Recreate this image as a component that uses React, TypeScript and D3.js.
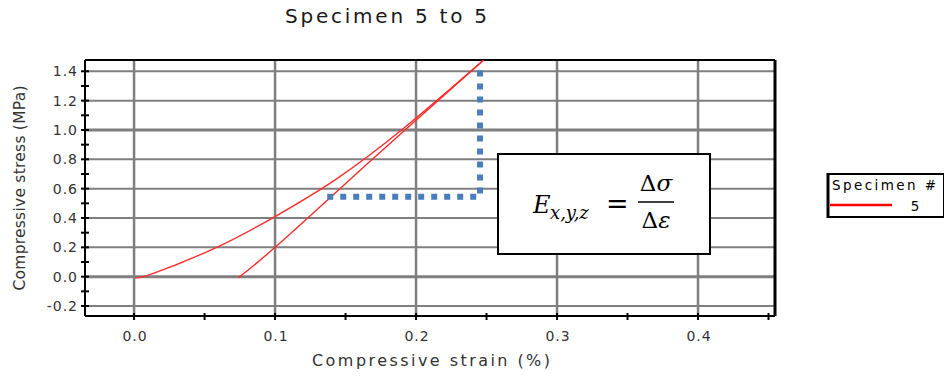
import * as d3 from "d3";

// values
const strainTicks = [0.0, 0.1, 0.2, 0.3, 0.4];
const stressTicks = [-0.2, 0.0, 0.2, 0.4, 0.6, 0.8, 1.0, 1.2, 1.4];

const curveStrain = [0.0007, 0.0137, 0.0586, 0.1, 0.1426, 0.191, 0.248];
const curveStress = [-0.007, 0.023, 0.2, 0.41, 0.66, 1.01, 1.477];

const tangentStrain = [0.074, 0.1, 0.146, 0.191, 0.248];
const tangentStress = [-0.007, 0.2, 0.6, 0.99, 1.477];

const guideStrain = [0.137, 0.2454, 0.2454];
const guideStress = [0.545, 0.545, 1.42];

const legendItems = ["5"];

const W = 944,
  H = 377;
const left = 85,
  right = 775,
  top = 60,
  bottom = 316;

export default function App() {
  const x = d3.scaleLinear().domain([-0.0348, 0.4546]).range([left, right]);
  const y = d3.scaleLinear().domain([-0.268, 1.477]).range([bottom, top]);

  const smooth = d3
    .line<[number, number]>()
    .x((d) => x(d[0]))
    .y((d) => y(d[1]))
    .curve(d3.curveNatural);
  const straight = d3
    .line<[number, number]>()
    .x((d) => x(d[0]))
    .y((d) => y(d[1]));

  const curvePath = smooth(curveStrain.map((s, i) => [s, curveStress[i]]));
  const tangentPath = smooth(tangentStrain.map((s, i) => [s, tangentStress[i]]));
  const guidePath = straight(guideStrain.map((s, i) => [s, guideStress[i]]));

  const fmt = d3.format(".1f");
  const yMinor = d3.range(-0.2, 1.45, 0.1);
  const xMinor = d3.range(0, 0.46, 0.05);
  const font = "'DejaVu Sans', Verdana, sans-serif";

  return (
    <svg width={W} height={H} style={{ position: "absolute", left: 0, top: 0, background: "#fff" }}>
      <defs>
        <clipPath id="plot">
          <rect x={left} y={top} width={right - left} height={bottom - top} />
        </clipPath>
      </defs>

      <text x={285} y={23} fontFamily={font} fontSize={20} fill="#1a1a1a" textLength={202} lengthAdjust="spacing">
        Specimen 5 to 5
      </text>

      {/* grid */}
      {stressTicks.map((t) => (
        <line
          key={"h" + t}
          x1={left}
          x2={right}
          y1={y(t)}
          y2={y(t)}
          stroke="#7f7f7f"
          strokeWidth={t === 0 || t === 1 ? 3 : 2}
        />
      ))}
      {strainTicks.map((t) => (
        <line key={"v" + t} x1={x(t)} x2={x(t)} y1={top} y2={bottom} stroke="#7f7f7f" strokeWidth={2.5} />
      ))}

      {/* frame */}
      <line x1={left} x2={right} y1={top} y2={top} stroke="#000" strokeWidth={2} />
      <line x1={right} x2={right} y1={top} y2={bottom} stroke="#000" strokeWidth={3} />
      <line x1={left} x2={left} y1={top} y2={bottom} stroke="#000" strokeWidth={2} />
      <line x1={left} x2={right} y1={bottom} y2={bottom} stroke="#000" strokeWidth={2} />

      {/* y ticks */}
      {yMinor.map((t) => (
        <line key={"yt" + t} x1={left - 4} x2={left + 4} y1={y(t)} y2={y(t)} stroke="#000" strokeWidth={2} />
      ))}
      {stressTicks.map((t) => (
        <text
          key={"yl" + t}
          x={78}
          y={y(t) + 5}
          textAnchor="end"
          fontFamily={font}
          fontSize={14}
          fill="#333"
          letterSpacing={1}
        >
          {fmt(t).replace("\u2212", "-")}
        </text>
      ))}

      {/* x ticks */}
      {xMinor.map((t) => (
        <line key={"xt" + t} x1={x(t)} x2={x(t)} y1={bottom - 3} y2={bottom + 4} stroke="#000" strokeWidth={2} />
      ))}
      {strainTicks.map((t) => (
        <text
          key={"xl" + t}
          x={x(t) + 1}
          y={341}
          textAnchor="middle"
          fontFamily={font}
          fontSize={14}
          fill="#333"
          letterSpacing={1}
        >
          {fmt(t)}
        </text>
      ))}

      <text x={312} y={366} fontFamily={font} fontSize={16} fill="#333" textLength={238} lengthAdjust="spacing">
        Compressive strain (%)
      </text>
      <text
        transform={`translate(25,188) rotate(-90)`}
        textAnchor="middle"
        fontFamily={font}
        fontSize={15.5}
        fill="#333"
        textLength={205}
        lengthAdjust="spacing"
      >
        Compressive stress (MPa)
      </text>

      {/* data */}
      <g clipPath="url(#plot)">
        <path d={curvePath ?? ""} fill="none" stroke="#ff2a2a" strokeWidth={1.4} />
        <path d={tangentPath ?? ""} fill="none" stroke="#ff2a2a" strokeWidth={1.4} />
      </g>
      <path d={guidePath ?? ""} fill="none" stroke="#4a7ebb" strokeWidth={6} strokeDasharray="6,7" />

      {/* equation box */}
      <rect x={498} y={154} width={212} height={100} fill="#fff" stroke="#000" strokeWidth={2} />
      <g fontFamily="'DejaVu Serif', 'Liberation Serif', serif" fill="#000">
        <text x={533} y={213} fontSize={24} fontStyle="italic">
          E
        </text>
        <text x={550} y={219} fontSize={18} fontStyle="italic">
          x,y,z
        </text>
        <text x={606} y={213} fontSize={27}>
          =
        </text>
        <line x1={638} x2={674} y1={202} y2={202} stroke="#000" strokeWidth={1.6} />
        <text x={656} y={191} fontSize={23} textAnchor="middle">
          Δ<tspan fontStyle="italic">σ</tspan>
        </text>
        <text x={656} y={228} fontSize={23} textAnchor="middle">
          Δ<tspan fontStyle="italic">ε</tspan>
        </text>
      </g>

      {/* legend */}
      <rect x={828} y={174} width={116} height={43} fill="#fff" stroke="#000" strokeWidth={2} />
      <line x1={828} x2={828} y1={173} y2={218} stroke="#000" strokeWidth={3} />
      <text x={832} y={190} fontFamily={font} fontSize={13.5} fill="#000" textLength={104} lengthAdjust="spacing">
        Specimen #
      </text>
      {legendItems.map((d, i) => (
        <g key={d} transform={`translate(0,${i * 18})`}>
          <line x1={830} x2={892} y1={205} y2={205} stroke="#ff0000" strokeWidth={2.5} />
          <text x={915} y={211} textAnchor="middle" fontFamily={font} fontSize={13.5} fill="#000">
            {d}
          </text>
        </g>
      ))}
    </svg>
  );
}
